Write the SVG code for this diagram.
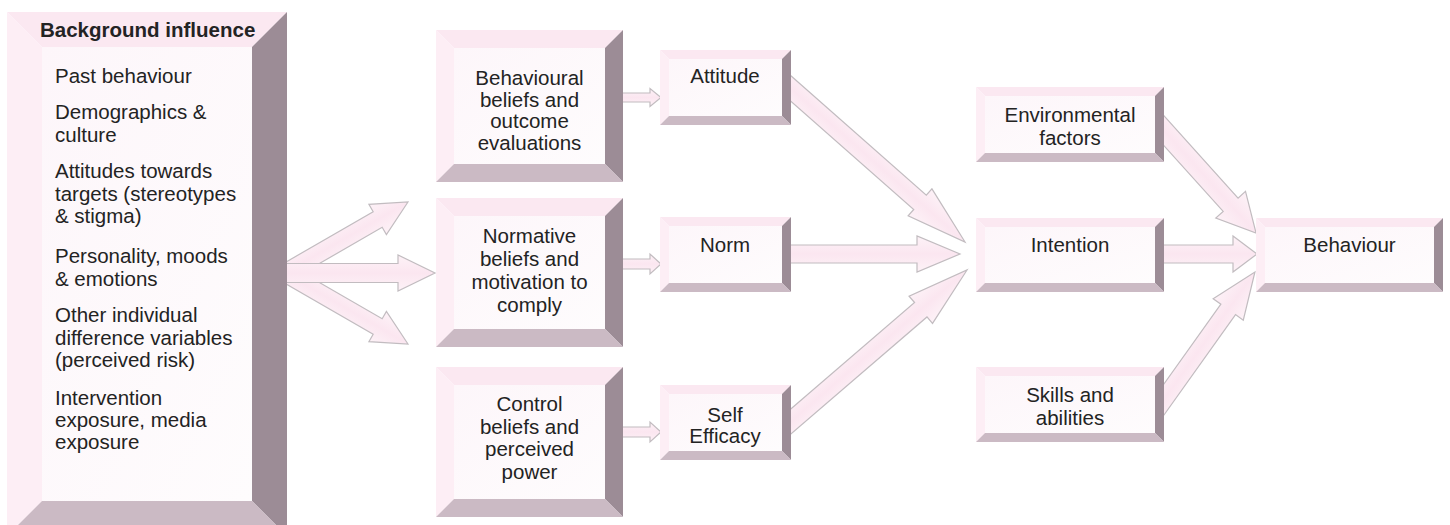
<svg xmlns="http://www.w3.org/2000/svg" width="1450" height="525" viewBox="0 0 1450 525">
<defs>
<linearGradient id="ag" x1="0" y1="0" x2="0" y2="1">
<stop offset="0" stop-color="#fdf2f7"/>
<stop offset="0.5" stop-color="#fbe6f0"/>
<stop offset="1" stop-color="#fdf2f7"/>
</linearGradient>
<linearGradient id="fg" x1="0" y1="0" x2="1" y2="1">
<stop offset="0" stop-color="#fdf6fa"/>
<stop offset="1" stop-color="#fefcfd"/>
</linearGradient>
</defs>
<style>
.t{fill:#fbe8f1}
.l{fill:#fdeef5}
.r{fill:#9c8c96}
.b{fill:#cbbac4}
.f{fill:url(#fg)}
.ar{fill:url(#ag);stroke:#c2bcc0;stroke-width:1.2;stroke-linejoin:miter}
text{font-family:"Liberation Sans",Arial,sans-serif;font-size:20.5px;fill:#232323}
.c{text-anchor:middle}
.h{font-weight:bold}
</style>
<rect width="1450" height="525" fill="#ffffff"/>

<g id="connectors">
<path class="ar" transform="translate(282.4,274.5) rotate(-30)" d="M0,-9 H110 V-17.5 L145,0 L110,17.5 V9 H0 Z"/>
<path class="ar" transform="translate(282.4,271.5) rotate(30)" d="M0,-9 H110 V-17.5 L145,0 L110,17.5 V9 H0 Z"/>
<path class="ar" d="M280,263.5 H398 V255 L435,273 L398,291 V282.5 H280 Z"/>
<path class="ar" d="M620,93 H650 V88.5 L661,97.5 L650,106.5 V102 H620 Z"/>
<path class="ar" d="M620,259 H650 V254 L661,264 L650,274 V269 H620 Z"/>
<path class="ar" d="M620,427 H650 V422 L661,432 L650,442 V437 H620 Z"/>
<path class="ar" transform="translate(777.5,76.7) rotate(41.4)" d="M0,-9.5 H190 V-18 L250,0 L190,18 V9.5 H0 Z"/>
<path class="ar" d="M780,245 H917 V236 L960,254 L917,272 V263 H780 Z"/>
<path class="ar" transform="translate(777.5,433) rotate(-40.7)" d="M0,-9.5 H189 V-18 L250,0 L189,18 V9.5 H0 Z"/>
<path class="ar" transform="translate(1149,114.1) rotate(48)" d="M0,-10 H122 V-20 L160,0 L122,20 V10 H0 Z"/>
<path class="ar" d="M1150,245 H1233 V236 L1257,254 L1233,272 V263 H1150 Z"/>
<path class="ar" transform="translate(1150.4,418.5) rotate(-54.5)" d="M0,-9 H134 V-18.5 L180,0 L134,18.5 V9 H0 Z"/>
</g>

<g id="background">
<polygon class="t" points="7,12 287,12 252,47 42,47"/>
<polygon class="l" points="7,12 42,47 42,501 7,536"/>
<polygon class="r" points="287,12 287,536 252,501 252,47"/>
<polygon class="b" points="7,536 42,501 252,501 287,536"/>
<rect class="f" x="42" y="47" width="210" height="454"/>
<text class="h" x="40" y="37">Background influence</text>
<text x="55" y="83">Past behaviour</text>
<text x="55" y="119">Demographics &amp;</text>
<text x="55" y="142">culture</text>
<text x="55" y="178">Attitudes towards</text>
<text x="55" y="201">targets (stereotypes</text>
<text x="55" y="223">&amp; stigma)</text>
<text x="55" y="263">Personality, moods</text>
<text x="55" y="286">&amp; emotions</text>
<text x="55" y="322">Other individual</text>
<text x="55" y="345">difference variables</text>
<text x="55" y="367">(perceived risk)</text>
<text x="55" y="405">Intervention</text>
<text x="55" y="427">exposure, media</text>
<text x="55" y="449">exposure</text>
</g>

<g id="behavioural-beliefs">
<polygon class="t" points="436,30 623,30 605,48 454,48"/>
<polygon class="l" points="436,30 454,48 454,164 436,182"/>
<polygon class="r" points="623,30 623,182 605,164 605,48"/>
<polygon class="b" points="436,182 454,164 605,164 623,182"/>
<rect class="f" x="454" y="48" width="151" height="116"/>
<text class="c" x="529.5" y="85">Behavioural</text>
<text class="c" x="529.5" y="106.5">beliefs and</text>
<text class="c" x="529.5" y="128">outcome</text>
<text class="c" x="529.5" y="149.5">evaluations</text>
</g>

<g id="normative-beliefs">
<polygon class="t" points="436,198 623,198 605,216 454,216"/>
<polygon class="l" points="436,198 454,216 454,329 436,347"/>
<polygon class="r" points="623,198 623,347 605,329 605,216"/>
<polygon class="b" points="436,347 454,329 605,329 623,347"/>
<rect class="f" x="454" y="216" width="151" height="113"/>
<text class="c" x="529.5" y="243">Normative</text>
<text class="c" x="529.5" y="266">beliefs and</text>
<text class="c" x="529.5" y="289">motivation to</text>
<text class="c" x="529.5" y="312">comply</text>
</g>

<g id="control-beliefs">
<polygon class="t" points="436,367 623,367 605,385 454,385"/>
<polygon class="l" points="436,367 454,385 454,499 436,517"/>
<polygon class="r" points="623,367 623,517 605,499 605,385"/>
<polygon class="b" points="436,517 454,499 605,499 623,517"/>
<rect class="f" x="454" y="385" width="151" height="114"/>
<text class="c" x="529.5" y="411">Control</text>
<text class="c" x="529.5" y="433.5">beliefs and</text>
<text class="c" x="529.5" y="456">perceived</text>
<text class="c" x="529.5" y="478.5">power</text>
</g>

<g id="attitude">
<polygon class="t" points="660,50 791,50 782,59 669,59"/>
<polygon class="l" points="660,50 669,59 669,116 660,125"/>
<polygon class="r" points="791,50 791,125 782,116 782,59"/>
<polygon class="b" points="660,125 669,116 782,116 791,125"/>
<rect class="f" x="669" y="59" width="113" height="57"/>
<text class="c" x="725" y="83">Attitude</text>
</g>

<g id="norm">
<polygon class="t" points="660,217 791,217 782,226 669,226"/>
<polygon class="l" points="660,217 669,226 669,283 660,292"/>
<polygon class="r" points="791,217 791,292 782,283 782,226"/>
<polygon class="b" points="660,292 669,283 782,283 791,292"/>
<rect class="f" x="669" y="226" width="113" height="57"/>
<text class="c" x="725" y="252">Norm</text>
</g>

<g id="self-efficacy">
<polygon class="t" points="660,385 791,385 782,394 669,394"/>
<polygon class="l" points="660,385 669,394 669,451 660,460"/>
<polygon class="r" points="791,385 791,460 782,451 782,394"/>
<polygon class="b" points="660,460 669,451 782,451 791,460"/>
<rect class="f" x="669" y="394" width="113" height="57"/>
<text class="c" x="725" y="422">Self</text>
<text class="c" x="725" y="443">Efficacy</text>
</g>

<g id="environmental-factors">
<polygon class="t" points="976,87 1164,87 1155,96 985,96"/>
<polygon class="l" points="976,87 985,96 985,153 976,162"/>
<polygon class="r" points="1164,87 1164,162 1155,153 1155,96"/>
<polygon class="b" points="976,162 985,153 1155,153 1164,162"/>
<rect class="f" x="985" y="96" width="170" height="57"/>
<text class="c" x="1070" y="122">Environmental</text>
<text class="c" x="1070" y="145">factors</text>
</g>

<g id="intention">
<polygon class="t" points="976,218 1164,218 1155,227 985,227"/>
<polygon class="l" points="976,218 985,227 985,283 976,292"/>
<polygon class="r" points="1164,218 1164,292 1155,283 1155,227"/>
<polygon class="b" points="976,292 985,283 1155,283 1164,292"/>
<rect class="f" x="985" y="227" width="170" height="56"/>
<text class="c" x="1070" y="252">Intention</text>
</g>

<g id="skills-abilities">
<polygon class="t" points="976,367 1164,367 1155,376 985,376"/>
<polygon class="l" points="976,367 985,376 985,433 976,442"/>
<polygon class="r" points="1164,367 1164,442 1155,433 1155,376"/>
<polygon class="b" points="976,442 985,433 1155,433 1164,442"/>
<rect class="f" x="985" y="376" width="170" height="57"/>
<text class="c" x="1070" y="402">Skills and</text>
<text class="c" x="1070" y="425">abilities</text>
</g>

<g id="behaviour">
<polygon class="t" points="1256,218 1443,218 1434,227 1265,227"/>
<polygon class="l" points="1256,218 1265,227 1265,283 1256,292"/>
<polygon class="r" points="1443,218 1443,292 1434,283 1434,227"/>
<polygon class="b" points="1256,292 1265,283 1434,283 1443,292"/>
<rect class="f" x="1265" y="227" width="169" height="56"/>
<text class="c" x="1349.5" y="252">Behaviour</text>
</g>
</svg>
